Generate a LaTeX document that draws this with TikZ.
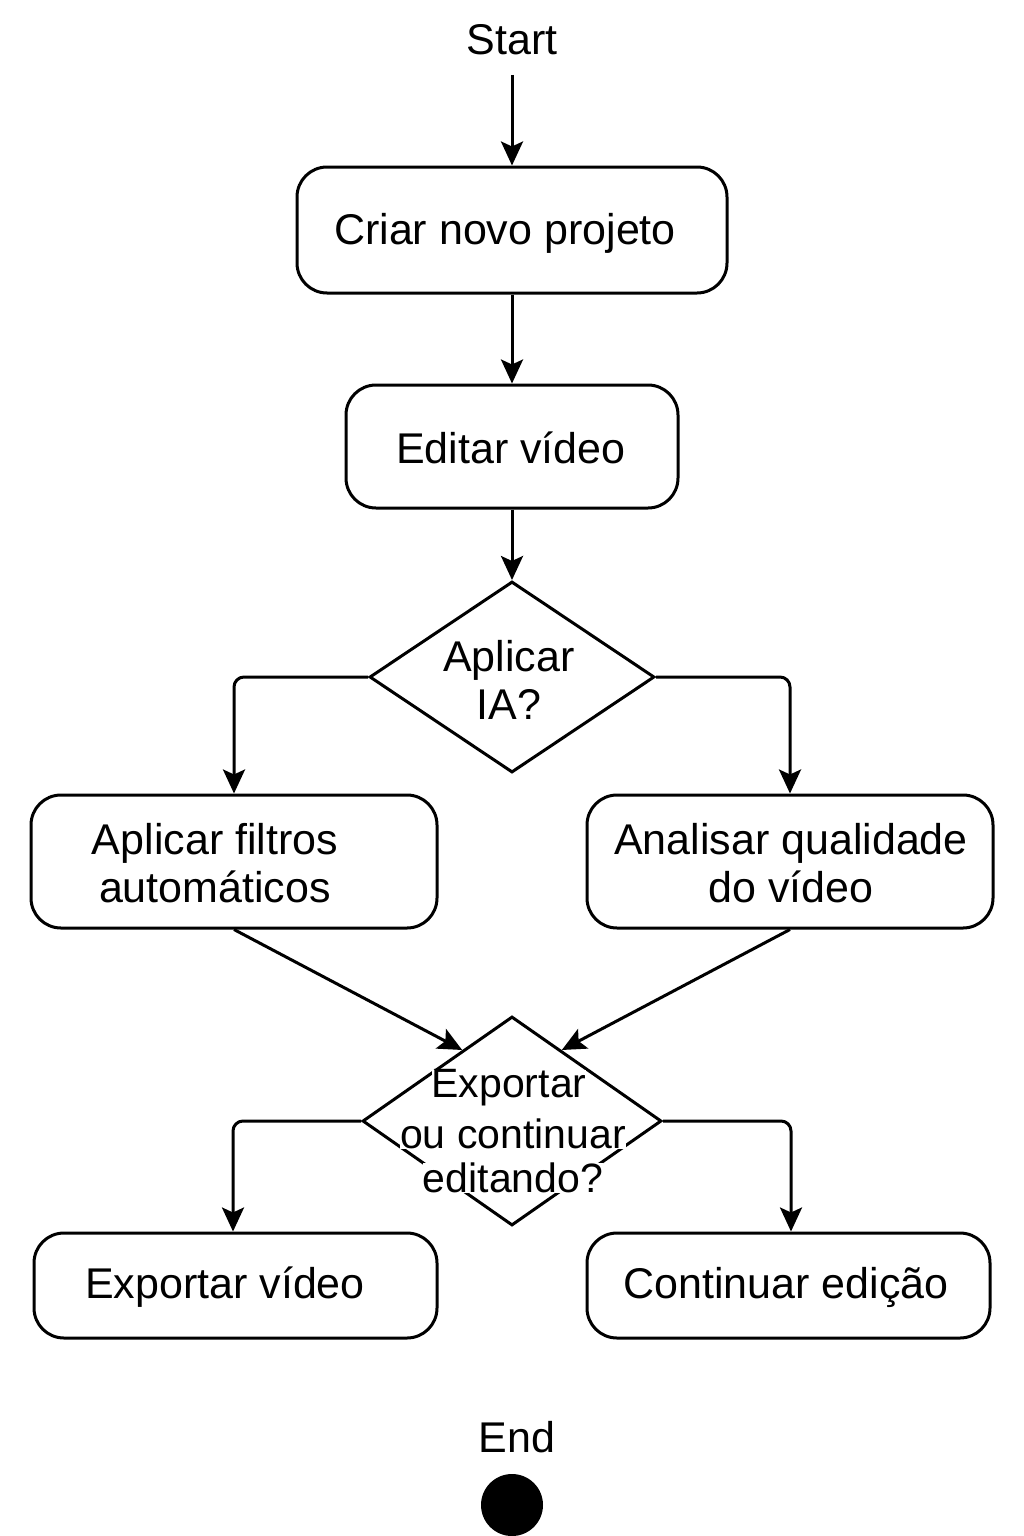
\documentclass[tikz,border=0pt]{standalone}
\usepackage{fontspec}
\setmainfont{Liberation Sans}
\usetikzlibrary{shapes.geometric,arrows.meta,calc}
\tikzset{
  box/.style={draw,line width=3pt,rounded corners=30pt,inner sep=0pt},
  dia/.style={draw,diamond,line width=3pt,inner sep=0pt},
  lbl/.style={font=\fontsize{43}{48}\selectfont,align=center,inner sep=0pt},
  dlbl/.style={font=\fontsize{41}{46}\selectfont,align=center,inner sep=0pt,fill=white},
  con/.style={line width=3pt,-{Stealth[length=24pt,width=22pt,inset=5pt]}},
}
\begin{document}
\begin{tikzpicture}[x=1pt,y=-1pt]
\useasboundingbox (0,0) rectangle (1024,1536);
\node[lbl] (start) at (512,40) {Start};
\node[box,minimum width=430pt,minimum height=126pt] (b1) at (512,230) {};
\node[lbl] (t1) at (505,233) {Criar novo projeto};
\node[box,minimum width=332pt,minimum height=123pt] (b2) at (512,446.5) {};
\node[lbl] (t2) at (511,448) {Editar vídeo};
\node[dia,minimum width=285pt,minimum height=191pt] (d1) at (512,677) {};
\node[lbl] (t3) at (509,680) {Aplicar\\IA?};
\node[box,minimum width=406pt,minimum height=133pt] (b3) at (234,861.5) {};
\node[lbl] (t4) at (215,863) {Aplicar filtros\\automáticos};
\node[box,minimum width=406pt,minimum height=133pt] (b4) at (790,861.5) {};
\node[lbl] (t5) at (791,863) {Analisar qualidade\\do vídeo};
\node[dia,minimum width=299pt,minimum height=209pt] (d2) at (512,1121) {};
\node[dlbl] (t6a) at (509,1088) {Exportar};
\node[dlbl] (t6b) at (513,1134) {ou continuar};
\node[dlbl] (t6c) at (513,1178) {editando?};
\node[box,minimum width=403pt,minimum height=105pt] (b5) at (235.5,1285.5) {};
\node[lbl] (t7) at (225,1287) {Exportar vídeo};
\node[box,minimum width=403pt,minimum height=105pt] (b6) at (788.5,1285.5) {};
\node[lbl] (t8) at (786,1287) {Continuar edição};
\node[lbl] (end) at (517,1437) {End};
\node[circle,fill=black,minimum size=62pt,inner sep=0pt] (endc) at (512,1505) {};
\coordinate (s0) at (512,75);
\draw[con] (s0) -- (b1.north);
\draw[con] (b1.south) -- (b2.north);
\draw[con] (b2.south) -- (d1.north);
\draw[con,rounded corners=10pt] (d1.west) -| (b3.north);
\draw[con,rounded corners=10pt] (d1.east) -| (b4.north);
\draw[con] (b3.south) -- ($(d2.north)!0.33!(d2.west)$);
\draw[con] (b4.south) -- ($(d2.north)!0.33!(d2.east)$);
\draw[con,rounded corners=10pt] (d2.west) -| ([xshift=-2.5pt]b5.north);
\draw[con,rounded corners=10pt] (d2.east) -| ([xshift=2.5pt]b6.north);
\end{tikzpicture}
\end{document}
